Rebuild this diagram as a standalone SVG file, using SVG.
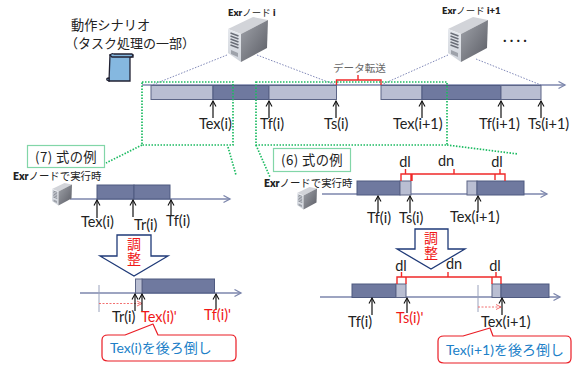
<svg xmlns="http://www.w3.org/2000/svg" xmlns:xlink="http://www.w3.org/1999/xlink" width="578" height="369" viewBox="0 0 578 369">
<style>
text{font-family:"Lato","Open Sans","Noto Sans CJK JP",sans-serif;fill:#222}
.l{font-size:14.5px}
.r{fill:#f01818}
.j{font-family:"Noto Sans CJK JP","Noto Sans",sans-serif}
.b{font-size:9.5px;font-family:"Lato","Noto Sans CJK JP",sans-serif}
.b2{font-size:10.4px;font-family:"Lato","Noto Sans CJK JP",sans-serif}
.w{font-weight:800}
.v{font-size:14px;writing-mode:vertical-rl;letter-spacing:1px}
.ax{stroke:#7c86ac;stroke-width:1.4;fill:none}
.dk{fill:#6f799f;stroke:#4f5a80;stroke-width:1}
.lt{fill:#b9bed2;stroke:#5c6586;stroke-width:1}
.ar{stroke:#111;stroke-width:1.2;fill:none;marker-end:url(#oa)}
.gd{stroke:#1dbb62;stroke-width:1.7;stroke-dasharray:1.5 1.5;fill:none}
.bd{stroke:#8088b8;stroke-width:1;stroke-dasharray:1.5 1.5;fill:none}
.rb{stroke:#f02828;stroke-width:1.4;fill:none}
.bx{fill:#fff;stroke:#82d6a8;stroke-width:1.2}
.bg{fill:#fff;stroke:#1f3a78;stroke-width:1.3}
.cal{fill:#fff;stroke:#ea1c24;stroke-width:1.2;stroke-linejoin:round}
.ct{fill:#2080c8;font-size:14px}
.tk{stroke:#9aa2bc;stroke-width:1;fill:none}
.dsh{stroke:#f06060;stroke-width:.9;stroke-dasharray:2 1.5;fill:none;marker-end:url(#ra)}
</style>
<defs>
<marker id="oa" markerUnits="userSpaceOnUse" markerWidth="8" markerHeight="8" refX="6.500" refY="4" orient="auto"><path d="M1 1 L6.500 4 L1 7" fill="none" stroke="#111" stroke-width="1.1"/></marker>
<marker id="ba" markerUnits="userSpaceOnUse" markerWidth="9" markerHeight="9" refX="7.500" refY="4.500" orient="auto"><path d="M1 1 L7.500 4.500 L1 8" fill="none" stroke="#7c86ac" stroke-width="1.3"/></marker>
<marker id="ra" markerUnits="userSpaceOnUse" markerWidth="7" markerHeight="7" refX="6" refY="3.500" orient="auto"><path d="M1 1 L6 3.500 L1 6" fill="none" stroke="#f06060" stroke-width=".9"/></marker>
<linearGradient id="sf" x1="0" y1="0" x2="0" y2="1"><stop offset="0" stop-color="#e6e9ee"/><stop offset="1" stop-color="#cfd3da"/></linearGradient>
<linearGradient id="ss" x1="0" y1="0" x2="1" y2="1"><stop offset="0" stop-color="#a0a3aa"/><stop offset="1" stop-color="#5a5c64"/></linearGradient>
<g id="srv">
<polygon points="0,12 13,17 40,3 25,0" fill="#d2d4d9"/>
<polygon points="0,12 13,17 13,45 0,36" fill="url(#sf)"/>
<polygon points="13,17 40,3 39,31 13,45" fill="url(#ss)"/>
<path d="M2.500 16 L10.500 19 M2.500 19 L10.500 22 M2.500 22 L10.500 25 M2.500 25 L10.500 28 M2.500 28 L10.500 31" stroke="#6a6e78" stroke-width="1.4" fill="none"/>
<path d="M3 33 L10 36 L10 40 L3 37 Z" fill="#9ea2aa"/>
</g>
</defs>
<rect width="578" height="369" fill="#fff"/>

<g id="connectors">
<path class="bd" d="M227 55 L152 85 M257 55 L336 85 M448 55 L383 84 M476 59 L541 85"/>
<path class="gd" d="M142 145 L106 163 M228 147 L236 175 M256 145 L270 177 M447 145 L518 154"/>
<path d="M142 85 H565" class="ax" marker-end="url(#ba)"/>
<path d="M70 199 H230" class="ax" marker-end="url(#ba)"/>
<path d="M80 293 H241" class="ax" marker-end="url(#ba)"/>
<path d="M322 194 H547" class="ax" marker-end="url(#ba)"/>
<path d="M320 297 H560" class="ax" marker-end="url(#ba)"/>
</g>

<g id="scenario">
<text class="j" x="71" y="30" font-size="13.200">動作シナリオ</text>
<text class="j" x="65" y="48" font-size="13">（タスク処理の一部）</text>
<path d="M110 55 H133 V57 H130 V81 H109 Z" fill="#85b8e0" stroke="#223" stroke-width="1.3"/>
<path d="M110 55 Q112 53 114 54 H132 Q134 56 131 57 H112 Z M107 80 Q106 78 109 78 V81 Z" fill="#85b8e0" stroke="#223" stroke-width="1.3"/>
</g>

<g id="node-i"><use xlink:href="#srv" href="#srv" transform="translate(228,17)"/><text class="b" x="228" y="16"><tspan class="w">Exr</tspan>ノード<tspan class="w"> i</tspan></text></g>
<g id="node-i1"><use xlink:href="#srv" href="#srv" transform="translate(448,17)"/><text class="b" x="442" y="14"><tspan class="w">Exr</tspan>ノード<tspan class="w"> i+1</tspan></text></g>
<text x="503" y="42" font-size="15" font-weight="700" letter-spacing="3.200">....</text>

<g id="timeline">
<rect class="lt" x="151" y="85.500" width="62" height="14"/>
<rect class="dk" x="213" y="85.500" width="56" height="14"/>
<rect class="lt" x="269" y="85.500" width="67.500" height="14"/>
<rect class="lt" x="381" y="85.500" width="41" height="14"/>
<rect class="dk" x="422" y="85.500" width="79" height="14"/>
<rect class="lt" x="501" y="85.500" width="40" height="14"/>
<path class="rb" d="M336.500 85 V80 H381 V85 M358 80 V75"/>
<text class="j" x="333" y="72" font-size="10.600" style="fill:#666">データ転送</text>
<path class="ar" d="M213 118 V101"/><path class="ar" d="M269 118 V101"/><path class="ar" d="M336 118 V101"/><path class="ar" d="M422 118 V101"/><path class="ar" d="M501 118 V101"/><path class="ar" d="M541 118 V101"/>
<text class="l" x="199" y="129">Tex(i)</text>
<text class="l" x="260" y="129">Tf(i)</text>
<text class="l" x="324" y="129">Ts(i)</text>
<text class="l" x="393" y="129">Tex(i+1)</text>
<text class="l" x="479" y="129">Tf(i+1)</text>
<text class="l" x="528" y="129">Ts(i+1)</text>
<rect class="gd" x="142" y="82" width="91" height="63"/>
<rect class="gd" x="256" y="82" width="191" height="63"/>
</g>

<g id="example-7">
<rect class="bx" x="27.500" y="145.500" width="77" height="22"/>
<text class="j" x="35" y="162" font-size="13.300" letter-spacing=".4">(7) 式の例</text>
<text class="b2" x="13" y="180"><tspan class="w">Exr</tspan>ノードで実行時</text>
<use xlink:href="#srv" href="#srv" transform="translate(52,183) scale(.5)"/>
<rect class="dk" x="97" y="185" width="37" height="14"/>
<rect class="dk" x="134" y="185" width="36" height="14"/>
<path class="ar" d="M97 218 V200"/><path class="ar" d="M133 217 V200"/><path class="ar" d="M171 215 V200"/>
<text class="l" x="81" y="227">Tex(i)</text>
<text class="l" x="134" y="230">Tr(i)</text>
<text class="l" x="166" y="226">Tf(i)</text>
<polygon class="bg" points="117,235 151,235 151,256 168,256 134,276 100,256 117,256"/>
<text class="j r v" x="134" y="237">調整</text>
<rect class="dk" x="142" y="279" width="72.500" height="14"/>
<rect class="lt" x="135.500" y="279" width="6.500" height="14"/>
<path class="tk" d="M99 285 V312"/>
<path class="dsh" d="M99 303.500 H142"/>
<path class="ar" d="M135 311 V294"/><path class="ar" d="M142 311 V294"/><path class="ar" d="M216 310 V294"/>
<text class="l" x="112" y="322">Tr(i)</text>
<text class="l r" x="141" y="322">Tex(i)'</text>
<text class="l r" x="204" y="320">Tf(i)'</text>
<path class="cal" d="M108 335 H125 L153 324 L158 335 H231 Q236 335 236 340 V356 Q236 361 231 361 H108 Q102 361 102 356 V340 Q102 335 108 335 Z"/>
<text class="ct" x="110" y="353">Tex(i)を後ろ倒し</text>
</g>

<g id="example-6">
<rect class="bx" x="273.500" y="148.500" width="77" height="23"/>
<text class="j" x="281" y="165" font-size="13.300" letter-spacing=".4">(6) 式の例</text>
<text class="b2" x="264" y="187"><tspan class="w">Exr</tspan>ノードで実行時</text>
<use xlink:href="#srv" href="#srv" transform="translate(297,187) scale(.5)"/>
<rect class="dk" x="357" y="181" width="43" height="14"/>
<rect class="lt" x="400" y="181" width="11" height="14"/>
<rect class="lt" x="467" y="181" width="10" height="14"/>
<rect class="dk" x="477" y="181" width="47" height="14"/>
<path class="rb" d="M401 181 V174 H411 V181 M405.500 174 V169 M412 181 V174 H495 V180 M454 174 V169 M495 174 H505 V181 M500 174 V169"/>
<text class="l" x="405" y="167" text-anchor="middle">dl</text>
<text class="l" x="446" y="166" text-anchor="middle">dn</text>
<text class="l" x="497" y="167" text-anchor="middle">dl</text>
<path class="ar" d="M378 213 V196"/><path class="ar" d="M410 213 V196"/><path class="ar" d="M478 212 V196"/>
<text class="l" x="367" y="223">Tf(i)</text>
<text class="l" x="399" y="223">Ts(i)</text>
<text class="l" x="450" y="222">Tex(i+1)</text>
<polygon class="bg" points="415,229 448,229 448,249 465,249 431,269 397,249 415,249"/>
<text class="j r v" x="431" y="231">調整</text>
<rect class="dk" x="352" y="284" width="44" height="13.500"/>
<rect class="lt" x="396" y="284" width="10" height="13.500"/>
<rect class="lt" x="492" y="284" width="9" height="13.500"/>
<rect class="dk" x="501" y="284" width="48" height="13.500"/>
<path class="rb" d="M397 284 V277 H406 V284 M401.500 277 V272 M406 277 H492 V284 M448 277 V272 M492 277 H501 V284 M496 277 V272"/>
<text class="l" x="401" y="271" text-anchor="middle">dl</text>
<text class="l" x="454" y="269" text-anchor="middle">dn</text>
<text class="l" x="495" y="271" text-anchor="middle">dl</text>
<path class="tk" d="M478 285 V312"/>
<path class="dsh" d="M478 307 H501"/>
<path class="ar" d="M372 315 V298"/><path class="ar" d="M407 313 V298"/><path class="ar" d="M502 315 V298"/>
<text class="l" x="348" y="327">Tf(i)</text>
<text class="l r" x="396" y="323">Ts(i)'</text>
<text class="l" x="481" y="327">Tex(i+1)</text>
<path class="cal" d="M444 336 H463 L490 328 L493 336 H566 Q571 336 571 341 V358 Q571 363 566 363 H444 Q438 363 438 358 V341 Q438 336 444 336 Z"/>
<text class="ct" x="446" y="355">Tex(i+1)を後ろ倒し</text>
</g>
</svg>
